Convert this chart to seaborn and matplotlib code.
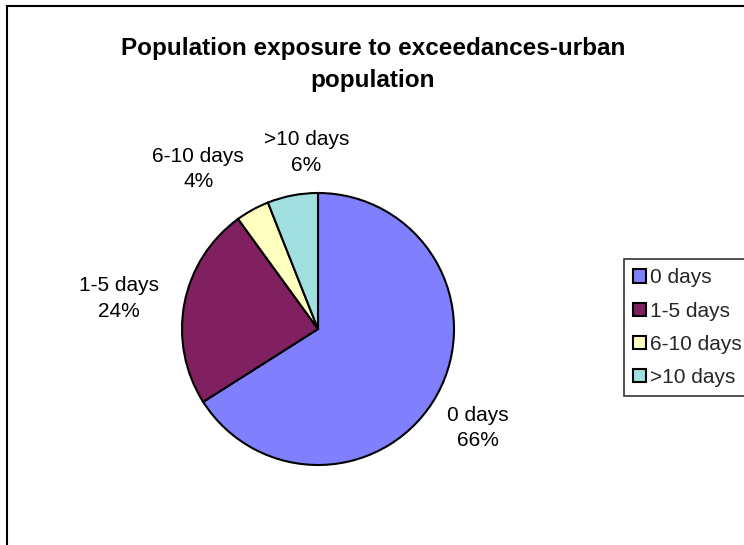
import numpy as np
import matplotlib
matplotlib.use("Agg")
import matplotlib.pyplot as plt
from matplotlib.patches import Patch, Rectangle
import seaborn as sns

# Share of urban population by number of exceedance days
categories = ["0 days", "1-5 days", "6-10 days", ">10 days"]
shares = [66, 24, 4, 6]
colors = ["#8080FF", "#802060", "#FFFFC0", "#A0E0E0"]

# label placement (distance in radii, angle nudge in degrees) per slice
label_dist = [1.38, 1.48, 1.47, 1.3]
label_nudge = [-3, 2, 8, -7]

sns.set_theme(style="white")
plt.rcParams["font.family"] = ["Liberation Sans", "DejaVu Sans"]

W, H = 744, 545
fig = plt.figure(figsize=(W / 100, H / 100), dpi=100)
fig.patch.set_facecolor("white")

# outer chart frame (left and top edges visible)
fig.add_artist(Rectangle((7 / W, -0.05), 1.2, (545 - 6) / H + 0.05,
                         transform=fig.transFigure, fill=False,
                         edgecolor="black", linewidth=1.5))

cx, cy, r = 318, 329, 136
lim = 1.7
ax = fig.add_axes([(cx - r * lim) / W, (H - cy - r * lim) / H,
                   2 * r * lim / W, 2 * r * lim / H])

wedges, _ = ax.pie(shares, colors=colors, startangle=90, counterclock=False,
                   radius=1,
                   wedgeprops=dict(edgecolor="black", linewidth=1.5))
ax.set_xlim(-lim, lim)
ax.set_ylim(-lim, lim)
ax.set_aspect("equal")
ax.axis("off")

for w, name, val, d, nudge in zip(wedges, categories, shares, label_dist, label_nudge):
    ang = np.deg2rad((w.theta1 + w.theta2) / 2 + nudge)
    ax.text(d * np.cos(ang), d * np.sin(ang), f"{name}\n{val}%",
            ha="center", va="center", fontsize=15, linespacing=1.45,
            color="black")

fig.text(373 / W, 1 - 65 / H, "Population exposure to exceedances-urban\npopulation",
         ha="center", va="center", fontsize=17.5, fontweight="bold",
         linespacing=1.5, color="black")

handles = [Patch(facecolor=c, edgecolor="black", linewidth=1.5) for c in colors]
leg = fig.legend(handles, categories, loc="upper left",
                 bbox_to_anchor=(624 / W, 1 - 259 / H),
                 fontsize=15, frameon=True, fancybox=False,
                 handlelength=0.6, handleheight=0.6, handletextpad=0.2,
                 labelspacing=0.68, borderpad=0.45, borderaxespad=0)
leg.get_frame().set_edgecolor("black")
leg.get_frame().set_linewidth(1.2)

fig.savefig("out.png", dpi=100)
